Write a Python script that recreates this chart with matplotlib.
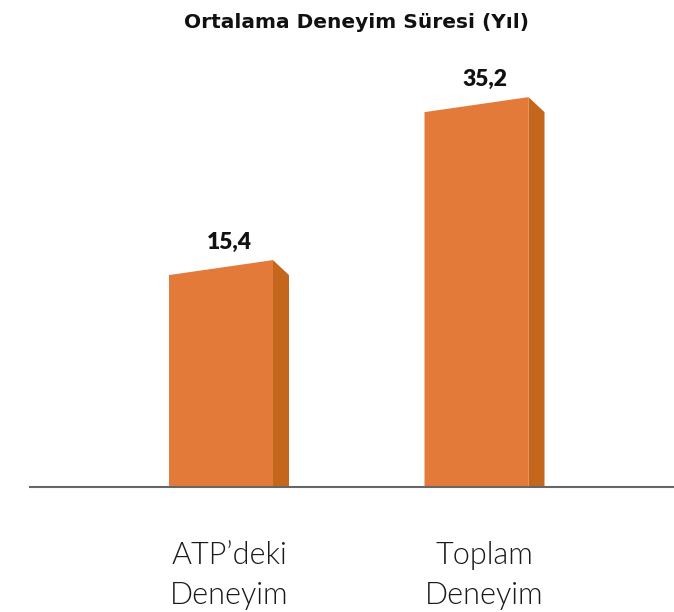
import matplotlib
matplotlib.use("Agg")
import matplotlib.pyplot as plt
from matplotlib.patches import Polygon

categories = ["ATP\u2019deki\nDeneyim", "Toplam\nDeneyim"]
values = [15.4, 35.2]
value_labels = ["15,4", "35,2"]
title = "Ortalama Deneyim S\u00fcresi (Y\u0131l)"

FRONT = "#E47A3A"
SIDE = "#C5661D"

W, H = 674, 612
fig = plt.figure(figsize=(W / 100, H / 100), dpi=100)
plt.rcParams['font.family'] = ['Lato', 'DejaVu Sans']

# axes placement in pixels
ax_left, ax_right, ax_bottom, ax_top = 29, 674, 487, 40
ax = fig.add_axes([ax_left / W, (H - ax_bottom) / H, (ax_right - ax_left) / W, (ax_bottom - ax_top) / H])

ymin = -10.35
px_per_unit = 8.23
ymax = ymin + (ax_bottom - ax_top) / px_per_unit
ax.set_ylim(ymin, ymax)

px_per_x = 255.5
xmin = -(221 - ax_left) / px_per_x
xmax = xmin + (ax_right - ax_left) / px_per_x
ax.set_xlim(xmin, xmax)

bar_w = 104 / px_per_x
dx = 16 / px_per_x
dy = 15 / px_per_unit

for i, v in enumerate(values):
    x0 = i - bar_w / 2
    x1 = i + bar_w / 2
    # side face
    ax.add_patch(Polygon([(x1, ymin), (x1, v + dy), (x1 + dx, v), (x1 + dx, ymin)],
                         closed=True, facecolor=SIDE, edgecolor='none', zorder=2))
    # front face (with perspective top)
    ax.add_patch(Polygon([(x0, ymin), (x0, v), (x1, v + dy), (x1, ymin)],
                         closed=True, facecolor=FRONT, edgecolor='none', zorder=3))
    cx = (x0 + x1 + dx) / 2
    ax.text(cx, v + dy + 7 / px_per_unit, value_labels[i], ha='center', va='bottom',
            fontsize=16.5, fontweight='heavy', color='#111111', zorder=4)
    ax.text(cx, ymin - 117 / px_per_unit, categories[i], ha='center', va='baseline',
            fontsize=22, fontweight=300, color='#1a1a1a', linespacing=1.48,
            zorder=4)

ax.plot([0, 1], [0, 0], transform=ax.transAxes, color='#666666', linewidth=1.5,
        zorder=5, clip_on=False, solid_capstyle='butt')
for s in ax.spines.values():
    s.set_visible(False)
ax.set_xticks([])
ax.set_yticks([])
ax.patch.set_alpha(0)

fig.text(356 / W, 1 - 22 / H, title, ha='center', va='center', fontsize=14.5,
         fontweight='bold', color='#111111', family=['DejaVu Sans'])

fig.savefig("out.png", dpi=100)
